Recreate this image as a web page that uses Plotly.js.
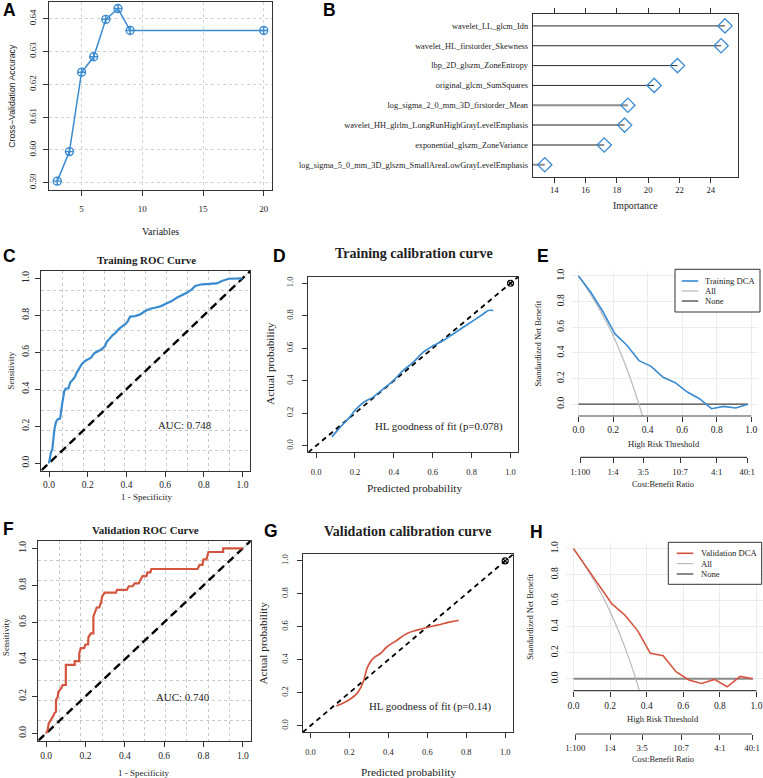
<!DOCTYPE html>
<html>
<head>
<meta charset="utf-8">
<script src="https://cdn.plot.ly/plotly-3.0.1.min.js"></script>
<style>html,body{margin:0;padding:0;background:#fff}#chart{width:763px;height:778px}</style>
</head>
<body>
<div id="chart"></div>
<script>
// ---------------- data ----------------
// A: recursive feature elimination
const rfeVariables = [3, 4, 5, 6, 7, 8, 9, 20];
const rfeAccuracy = [0.5905, 0.5995, 0.6237, 0.6284, 0.6398, 0.6431, 0.6364, 0.6364];

// B: variable importance (top to bottom)
const featureNames = [
  'wavelet_LL_glcm_Idn',
  'wavelet_HL_firstorder_Skewness',
  'lbp_2D_glszm_ZoneEntropy',
  'original_glcm_SumSquares',
  'log_sigma_2_0_mm_3D_firstorder_Mean',
  'wavelet_HH_glrlm_LongRunHighGrayLevelEmphasis',
  'exponential_glszm_ZoneVariance',
  'log_sigma_5_0_mm_3D_glszm_SmallAreaLowGrayLevelEmphasis'
];
const featureImportance = [24.91, 24.66, 21.87, 20.38, 18.70, 18.49, 17.19, 13.39];

// C: training ROC
const trainFpr = [0, 0.005, 0.01, 0.017, 0.022, 0.028, 0.036, 0.045, 0.057, 0.062, 0.069, 0.079, 0.086, 0.1, 0.109, 0.121, 0.134, 0.143, 0.157, 0.169, 0.186, 0.2, 0.217, 0.234, 0.255, 0.272, 0.29, 0.298, 0.31, 0.328, 0.345, 0.359, 0.379, 0.397, 0.407, 0.419, 0.445, 0.471, 0.497, 0.522, 0.548, 0.579, 0.609, 0.634, 0.66, 0.686, 0.712, 0.738, 0.755, 0.79, 0.841, 0.867, 0.893, 0.928, 1];
const trainTpr = [0, 0.031, 0.058, 0.076, 0.148, 0.184, 0.223, 0.238, 0.241, 0.292, 0.328, 0.391, 0.404, 0.404, 0.436, 0.45, 0.467, 0.49, 0.517, 0.535, 0.553, 0.562, 0.571, 0.595, 0.607, 0.616, 0.634, 0.656, 0.67, 0.692, 0.706, 0.724, 0.742, 0.755, 0.769, 0.793, 0.796, 0.805, 0.823, 0.836, 0.841, 0.85, 0.865, 0.877, 0.895, 0.908, 0.922, 0.941, 0.959, 0.968, 0.973, 0.973, 0.986, 0.998, 1];
const trainAuc = 0.748;

// F: validation ROC
const validFpr = [0, 0.008, 0.013, 0.025, 0.034, 0.042, 0.05, 0.05, 0.059, 0.062, 0.076, 0.084, 0.1, 0.1, 0.145, 0.145, 0.168, 0.168, 0.176, 0.193, 0.2, 0.213, 0.215, 0.227, 0.24, 0.24, 0.25, 0.257, 0.27, 0.28, 0.285, 0.297, 0.355, 0.36, 0.41, 0.42, 0.44, 0.45, 0.47, 0.48, 0.49, 0.51, 0.515, 0.53, 0.535, 0.77, 0.78, 0.795, 0.8, 0.815, 0.82, 0.825, 0.9, 0.9, 1];
const validTpr = [0, 0.018, 0.054, 0.072, 0.09, 0.108, 0.117, 0.18, 0.198, 0.225, 0.243, 0.261, 0.261, 0.37, 0.37, 0.39, 0.39, 0.43, 0.46, 0.46, 0.48, 0.48, 0.52, 0.54, 0.54, 0.63, 0.66, 0.68, 0.68, 0.71, 0.74, 0.76, 0.76, 0.775, 0.775, 0.795, 0.795, 0.81, 0.81, 0.83, 0.85, 0.85, 0.87, 0.87, 0.888, 0.888, 0.91, 0.91, 0.94, 0.94, 0.963, 0.98, 0.98, 1.0, 1];
const validAuc = 0.740;

// D / G: calibration curves
const trainCalPred = [0.081, 0.12, 0.172, 0.206, 0.249, 0.292, 0.344, 0.396, 0.447, 0.499, 0.55, 0.602, 0.654, 0.705, 0.757, 0.809, 0.86, 0.886, 0.912];
const trainCalObs  = [0.055, 0.109, 0.175, 0.226, 0.271, 0.298, 0.349, 0.40, 0.462, 0.513, 0.575, 0.616, 0.647, 0.688, 0.729, 0.77, 0.811, 0.832, 0.832];
const trainHlP = '0.078';
const validCalPred = [0.133, 0.171, 0.205, 0.239, 0.26, 0.274, 0.29, 0.308, 0.328, 0.359, 0.393, 0.444, 0.496, 0.547, 0.598, 0.65, 0.718, 0.761];
const validCalObs  = [0.119, 0.139, 0.162, 0.196, 0.236, 0.277, 0.347, 0.388, 0.414, 0.438, 0.479, 0.519, 0.56, 0.58, 0.596, 0.61, 0.63, 0.64];
const validHlP = '0.14';
const idealPoint = [1, 1];

// E / H: decision curves
const dcaThreshold = [0, 0.07, 0.14, 0.21, 0.28, 0.35, 0.42, 0.49, 0.56, 0.63, 0.70, 0.77, 0.84, 0.91, 0.98];
const trainDcaModel = [1.0, 0.875, 0.725, 0.55, 0.46, 0.34, 0.295, 0.21, 0.168, 0.095, 0.043, -0.035, -0.017, -0.03, 0.0];
const validDcaModel = [1.0, 0.86, 0.715, 0.575, 0.49, 0.37, 0.195, 0.177, 0.054, -0.01, -0.036, -0.005, -0.062, 0.018, 0.0];
const dcaNone = [0, 0, 0, 0, 0, 0, 0, 0, 0, 0, 0, 0, 0, 0, 0];
const trainAllThreshold = [0, 0.05, 0.1, 0.15, 0.2, 0.25, 0.3, 0.35, 0.37];
const trainAllBenefit = [1.0, 0.90, 0.79, 0.67, 0.536, 0.38, 0.20, 0.0, -0.09];
const validAllThreshold = [0, 0.05, 0.1, 0.15, 0.2, 0.25, 0.3, 0.34, 0.36];
const validAllBenefit = [1.0, 0.898, 0.784, 0.657, 0.515, 0.353, 0.168, 0.0, -0.092];
const costBenefitLabels = ['1:100', '1:4', '3:5', '10:7', '4:1', '40:1'];
const costBenefitThreshold = [0.0099, 0.2, 0.375, 0.5882, 0.8, 0.9756];

// ---------------- styling / layout helpers ----------------
const W = 763, H = 778;
const SERIF = 'Liberation Serif, Times New Roman, serif';
const SANS = 'Liberation Sans, Arial, sans-serif';
const BLUE = '#3a8bd0';
const RED = '#d4553f';
const INK = '#222222';
const PX = v => v / W;
const PY = v => 1 - v / H;
const domX = b => [b[0] / W, Math.min(1, b[1] / W)];
const domY = b => [1 - b[3] / H, 1 - b[2] / H];
const serif = size => ({family: SERIF, size: size, color: INK});

// plot boxes in pixels: [left, right, top, bottom]
const boxA = [49, 272, 2, 190];
const boxB = [532.7, 737.7, 14, 176.7];
const boxC = [41.3, 250.3, 271, 470.5];
const boxD = [308.3, 518.3, 276.7, 452.3];
const boxE = [571.6, 758.2, 270.6, 416.0];
const boxF = [38.3, 250.7, 540.9, 740.7];
const boxG = [302.7, 513, 554.3, 732.3];
const boxH = [566.2, 763, 543.2, 690.7];

const UNIT = [-0.04, 1.04];
const DCA_Y = [-0.092, 1.042];
const H_X = [-0.04, 1.0355];
const B_X = [12.62, 25.72];

function axis(extra) {
  return Object.assign({
    showgrid: false, zeroline: false, showline: false,
    ticks: 'outside', ticklen: 5, tickwidth: 1, tickcolor: '#333',
    linecolor: '#333', linewidth: 1,
    tickfont: serif(9.5),
    fixedrange: true
  }, extra);
}
const boxed = {showline: true, mirror: true};
const unitTicks = [0, 0.2, 0.4, 0.6, 0.8, 1.0];
const rocGrid = [];
for (let k = 1; k < 10; k++) rocGrid.push(UNIT[0] + (UNIT[1] - UNIT[0]) * k / 10);
const rocMinor = {tickmode: 'array', tickvals: rocGrid, showgrid: true, gridcolor: '#c9c9c9', griddash: 'dot', gridwidth: 1, ticks: ''};

const traces = [];

// A
traces.push({x: rfeVariables, y: rfeAccuracy, xaxis: 'x', yaxis: 'y', mode: 'lines+markers',
  line: {color: BLUE, width: 1.5},
  marker: {symbol: 'circle-cross-open', size: 8, color: BLUE, line: {width: 1.4, color: BLUE}},
  hoverinfo: 'x+y', showlegend: false});

// B
featureNames.forEach((name, i) => {
  const strong = i < 4;
  traces.push({x: [B_X[0], featureImportance[i]], y: [name, name], xaxis: 'x2', yaxis: 'y2', mode: 'lines',
    line: {color: strong ? '#2b2b2b' : '#8e8e8e', width: strong ? 1 : 2}, hoverinfo: 'skip', showlegend: false});
});
traces.push({x: featureImportance, y: featureNames, xaxis: 'x2', yaxis: 'y2', mode: 'markers',
  marker: {symbol: 'diamond-open', size: 11, color: BLUE, line: {width: 1.3, color: BLUE}}, showlegend: false});

// reference diagonals spanning the whole unit panel
function diagonal(xa, ya, color, width, dash) {
  return {x: UNIT, y: UNIT, xaxis: xa, yaxis: ya, mode: 'lines', line: {color: color, width: width, dash: dash},
    hoverinfo: 'skip', showlegend: false};
}

// C
traces.push(diagonal('x3', 'y3', '#bdbdbd', 1, 'solid'));
traces.push(diagonal('x3', 'y3', '#000', 2.4, '8px,5px'));
traces.push({x: trainFpr, y: trainTpr, xaxis: 'x3', yaxis: 'y3', mode: 'lines', line: {color: BLUE, width: 2.2}, showlegend: false});

// D
traces.push(diagonal('x4', 'y4', '#000', 1.8, '5px,4px'));
traces.push({x: trainCalPred, y: trainCalObs, xaxis: 'x4', yaxis: 'y4', mode: 'lines', line: {color: BLUE, width: 1.7, shape: 'spline'}, showlegend: false});
traces.push({x: [idealPoint[0]], y: [idealPoint[1]], xaxis: 'x4', yaxis: 'y4', mode: 'markers',
  marker: {symbol: 'circle-x-open', size: 6, color: '#000', line: {width: 1.1}}, showlegend: false});

// E
traces.push({x: dcaThreshold, y: dcaNone, xaxis: 'x5', yaxis: 'y5', mode: 'lines', line: {color: '#444', width: 1.3}, showlegend: false});
traces.push({x: trainAllThreshold, y: trainAllBenefit, xaxis: 'x5', yaxis: 'y5', mode: 'lines', line: {color: '#bdbdbd', width: 1.3, shape: 'spline'}, showlegend: false});
traces.push({x: dcaThreshold, y: trainDcaModel, xaxis: 'x5', yaxis: 'y5', mode: 'lines', line: {color: BLUE, width: 1.6}, showlegend: false});
traces.push({x: costBenefitThreshold, y: costBenefitThreshold.map(() => null), xaxis: 'x9', yaxis: 'y5', mode: 'markers', hoverinfo: 'skip', showlegend: false});

// F
traces.push(diagonal('x6', 'y6', '#bdbdbd', 1, 'solid'));
traces.push(diagonal('x6', 'y6', '#000', 2.4, '8px,5px'));
traces.push({x: validFpr, y: validTpr, xaxis: 'x6', yaxis: 'y6', mode: 'lines', line: {color: RED, width: 2.2}, showlegend: false});

// G
traces.push(diagonal('x7', 'y7', '#000', 1.8, '5px,4px'));
traces.push({x: validCalPred, y: validCalObs, xaxis: 'x7', yaxis: 'y7', mode: 'lines', line: {color: RED, width: 1.7, shape: 'spline'}, showlegend: false});
traces.push({x: [idealPoint[0]], y: [idealPoint[1]], xaxis: 'x7', yaxis: 'y7', mode: 'markers',
  marker: {symbol: 'circle-x-open', size: 6, color: '#000', line: {width: 1.1}}, showlegend: false});

// H
traces.push({x: dcaThreshold, y: dcaNone, xaxis: 'x8', yaxis: 'y8', mode: 'lines', line: {color: '#8a8a8a', width: 2}, showlegend: false});
traces.push({x: validAllThreshold, y: validAllBenefit, xaxis: 'x8', yaxis: 'y8', mode: 'lines', line: {color: '#b5b5b5', width: 1.1, shape: 'spline'}, showlegend: false});
traces.push({x: dcaThreshold, y: validDcaModel, xaxis: 'x8', yaxis: 'y8', mode: 'lines', line: {color: RED, width: 1.6}, showlegend: false});
traces.push({x: costBenefitThreshold, y: costBenefitThreshold.map(() => null), xaxis: 'x10', yaxis: 'y8', mode: 'markers', hoverinfo: 'skip', showlegend: false});

// ---------------- axes ----------------
const layout = {
  width: W, height: H, margin: {l: 0, r: 0, t: 0, b: 0},
  paper_bgcolor: '#fff', plot_bgcolor: 'rgba(0,0,0,0)', showlegend: false,
  font: {family: SERIF, color: INK},

  xaxis: axis(Object.assign({domain: domX(boxA), anchor: 'y', range: [2.32, 20.68], tickvals: [5, 10, 15, 20],
    tickfont: serif(9), showgrid: true, gridcolor: '#d2d2d2', griddash: 'dot', ticklabelstandoff: 5}, boxed)),
  yaxis: axis(Object.assign({domain: domY(boxA), anchor: 'x', range: [0.5878, 0.6451], tickvals: [0.59, 0.60, 0.61, 0.62, 0.63, 0.64],
    tickformat: '.2f', tickangle: -90, tickfont: serif(9), showgrid: true, gridcolor: '#d2d2d2', griddash: 'dot', ticklabelstandoff: 3}, boxed)),

  xaxis2: axis({domain: domX(boxB), anchor: 'y2', range: B_X, tickvals: [14, 16, 18, 20, 22, 24],
    tickfont: serif(8.7), showline: true, mirror: 'ticks', ticklabelstandoff: 0}),
  yaxis2: axis({domain: domY(boxB), anchor: 'x2', type: 'category', categoryorder: 'array',
    categoryarray: featureNames.slice().reverse(), range: [-0.6, 7.6], ticks: '', showline: true, mirror: true,
    tickfont: serif(8.3), ticklabelstandoff: 2}),

  xaxis3: axis(Object.assign({domain: domX(boxC), anchor: 'y3', range: UNIT, tickvals: unitTicks, tickformat: '.1f',
    minor: rocMinor, tickfont: serif(9.5), ticklabelstandoff: 0}, boxed)),
  yaxis3: axis(Object.assign({domain: domY(boxC), anchor: 'x3', range: UNIT, tickvals: unitTicks, tickformat: '.1f',
    tickangle: -90, minor: rocMinor, tickfont: serif(9.5), ticklabelstandoff: 3}, boxed)),

  xaxis4: axis(Object.assign({domain: domX(boxD), anchor: 'y4', range: UNIT, tickvals: unitTicks, tickformat: '.1f',
    tickfont: serif(8.5), ticklabelstandoff: 6}, boxed)),
  yaxis4: axis(Object.assign({domain: domY(boxD), anchor: 'x4', range: UNIT, tickvals: unitTicks, tickformat: '.1f',
    tickangle: -90, tickfont: serif(8.5), ticklabelstandoff: 6}, boxed)),

  xaxis5: axis({domain: domX(boxE), anchor: 'y5', range: UNIT, tickvals: unitTicks, tickformat: '.1f',
    showgrid: true, gridcolor: '#ececec', ticklabelstandoff: 0}),
  yaxis5: axis({domain: domY(boxE), anchor: 'x5', range: DCA_Y, tickvals: unitTicks, tickformat: '.1f', tickangle: -90,
    showgrid: true, gridcolor: '#ececec', tickcolor: 'rgba(0,0,0,0)', ticklen: 3, ticklabelstandoff: 0}),
  xaxis9: axis({overlaying: 'x5', anchor: 'free', position: PY(457.3), range: UNIT, tickvals: costBenefitThreshold,
    ticktext: costBenefitLabels, tickfont: serif(8.8), ticklabelstandoff: 1}),

  xaxis6: axis(Object.assign({domain: domX(boxF), anchor: 'y6', range: UNIT, tickvals: unitTicks, tickformat: '.1f',
    minor: rocMinor, tickfont: serif(9.5), ticklabelstandoff: 1}, boxed)),
  yaxis6: axis(Object.assign({domain: domY(boxF), anchor: 'x6', range: UNIT, tickvals: unitTicks, tickformat: '.1f',
    tickangle: -90, minor: rocMinor, tickfont: serif(9.5), ticklabelstandoff: 3}, boxed)),

  xaxis7: axis(Object.assign({domain: domX(boxG), anchor: 'y7', range: UNIT, tickvals: unitTicks, tickformat: '.1f',
    tickfont: serif(8.5), ticklabelstandoff: 6}, boxed)),
  yaxis7: axis(Object.assign({domain: domY(boxG), anchor: 'x7', range: UNIT, tickvals: unitTicks, tickformat: '.1f',
    tickangle: -90, tickfont: serif(8.5), ticklabelstandoff: 5}, boxed)),

  xaxis8: axis({domain: domX(boxH), anchor: 'y8', range: H_X, tickvals: unitTicks, tickformat: '.1f',
    showgrid: true, gridcolor: '#ececec', ticklabelstandoff: 1}),
  yaxis8: axis({domain: domY(boxH), anchor: 'x8', range: DCA_Y, tickvals: unitTicks, tickformat: '.1f', tickangle: -90,
    showgrid: true, gridcolor: '#ececec', tickcolor: 'rgba(0,0,0,0)', ticklen: 3, ticklabelstandoff: 0}),
  xaxis10: axis({overlaying: 'x8', anchor: 'free', position: PY(734), range: H_X, tickvals: costBenefitThreshold,
    ticktext: costBenefitLabels, tickfont: serif(8.8), ticklabelstandoff: 0})
};

// ---------------- shapes: R-style axis lines and legend boxes ----------------
const shapes = [];
function hline(xref, x0, x1, yPix, color, width) {
  shapes.push({type: 'line', xref: xref, yref: 'paper', x0: x0, x1: x1, y0: PY(yPix), y1: PY(yPix),
    line: {color: color, width: width}});
}
const cbFirst = costBenefitThreshold[0], cbLast = costBenefitThreshold[costBenefitThreshold.length - 1];
hline('x5', 0, 1, boxE[3], '#444', 1.2);
hline('x5', cbFirst, cbLast, 457.3, '#444', 1.2);
hline('x8', 0, 1, boxH[3], '#444', 1.2);
hline('x8', cbFirst, cbLast, 734, '#444', 1.2);

const annotations = [];
function text(t, x, y, opts) {
  annotations.push(Object.assign({text: t, xref: 'paper', yref: 'paper', x: PX(x), y: PY(y), showarrow: false,
    xanchor: 'center', yanchor: 'middle', font: serif(10)}, opts || {}));
}

function legendBox(b, entries) {
  shapes.push({type: 'rect', xref: 'paper', yref: 'paper', x0: PX(b[0]), x1: PX(b[1]), y0: PY(b[3]), y1: PY(b[2]),
    line: {color: '#333', width: 1}, fillcolor: '#fff', layer: 'above'});
  entries.forEach(e => {
    shapes.push({type: 'line', xref: 'paper', yref: 'paper', x0: PX(e.sx[0]), x1: PX(e.sx[1]), y0: PY(e.y), y1: PY(e.y),
      line: {color: e.color, width: e.width}, layer: 'above'});
    text(e.label, e.tx, e.y, {xanchor: 'left', font: serif(8.6)});
  });
}
legendBox([675, 760, 269.3, 312], [
  {label: 'Training DCA', color: BLUE, width: 1.6, y: 281, sx: [681.7, 698.3], tx: 702.5},
  {label: 'All', color: '#bdbdbd', width: 1.3, y: 291, sx: [681.7, 698.3], tx: 702.5},
  {label: 'None', color: '#444', width: 1.3, y: 301, sx: [681.7, 698.3], tx: 702.5}
]);
legendBox([668.3, 761.7, 542.3, 584.3], [
  {label: 'Validation DCA', color: RED, width: 1.6, y: 553.3, sx: [676.7, 693.3], tx: 698.5},
  {label: 'All', color: '#b5b5b5', width: 1.1, y: 563.6, sx: [676.7, 693.3], tx: 698.5},
  {label: 'None', color: '#8a8a8a', width: 2, y: 574, sx: [676.7, 693.3], tx: 698.5}
]);

// ---------------- text ----------------
const letter = {family: SANS, size: 17.5, color: '#000'};
[['A', 9, 10], ['B', 329, 10], ['C', 9, 256], ['D', 279, 255.5], ['E', 542.5, 256],
 ['F', 8, 529], ['G', 271, 531], ['H', 536, 531.7]].forEach(l => text('<b>' + l[0] + '</b>', l[1], l[2], {font: letter}));

text('<b>Training ROC Curve</b>', 146, 260, {font: serif(10.9)});
text('<b>Validation ROC Curve</b>', 145, 530, {font: serif(10.9)});
text('<b>Training calibration curve</b>', 414, 253, {font: serif(14)});
text('<b>Validation calibration curve</b>', 408, 531.7, {font: serif(14)});

// axis titles
text('Variables', 160.5, 231.7, {font: serif(10)});
text('Cross\u2212Validation Accuracy', 11.7, 96, {textangle: -90, font: {family: SANS, size: 8.7, color: INK}});
text('Importance', 635, 205, {font: serif(9.8)});
text('Sensitivity', 10, 370.5, {textangle: -90, font: serif(8.8)});
text('1 - Specificity', 146, 497, {font: serif(9)});
text('Sensitivity', 6, 637, {textangle: -90, font: serif(8.8)});
text('1 - Specificity', 143, 773, {font: serif(9)});
text('Actual probability', 270, 364, {textangle: -90, font: serif(11.3)});
text('Predicted probability', 414, 488.3, {font: serif(11.3)});
text('Actual probability', 263.3, 643.3, {textangle: -90, font: serif(11.3)});
text('Predicted probability', 408.3, 771.7, {font: serif(11.3)});
text('Standardized Net Benefit', 538.3, 343.3, {textangle: -90, font: serif(8.5)});
text('High Risk Threshold', 664, 444, {font: serif(8.5)});
text('Cost:Benefit Ratio', 663.3, 484, {font: serif(8.3)});
text('Standardized Net Benefit', 530, 616.7, {textangle: -90, font: serif(8.5)});
text('High Risk Threshold', 663, 719, {font: serif(8.5)});
text('Cost:Benefit Ratio', 663.3, 759.3, {font: serif(8.3)});

// in-plot statistics
annotations.push({text: 'AUC: ' + trainAuc.toFixed(3), xref: 'x3', yref: 'y3', x: 0.70, y: 0.207, showarrow: false, font: serif(10.9)});
annotations.push({text: 'AUC: ' + validAuc.toFixed(3), xref: 'x6', yref: 'y6', x: 0.697, y: 0.198, showarrow: false, font: serif(10.9)});
annotations.push({text: 'HL goodness of fit (p=' + trainHlP + ')', xref: 'x4', yref: 'y4', x: 0.634, y: 0.117, showarrow: false, font: serif(10.9)});
annotations.push({text: 'HL goodness of fit (p=' + validHlP + ')', xref: 'x7', yref: 'y7', x: 0.614, y: 0.115, showarrow: false, font: serif(10.9)});

layout.shapes = shapes;
layout.annotations = annotations;

Plotly.newPlot('chart', traces, layout, {displayModeBar: false, staticPlot: true});
</script>
</body>
</html>
